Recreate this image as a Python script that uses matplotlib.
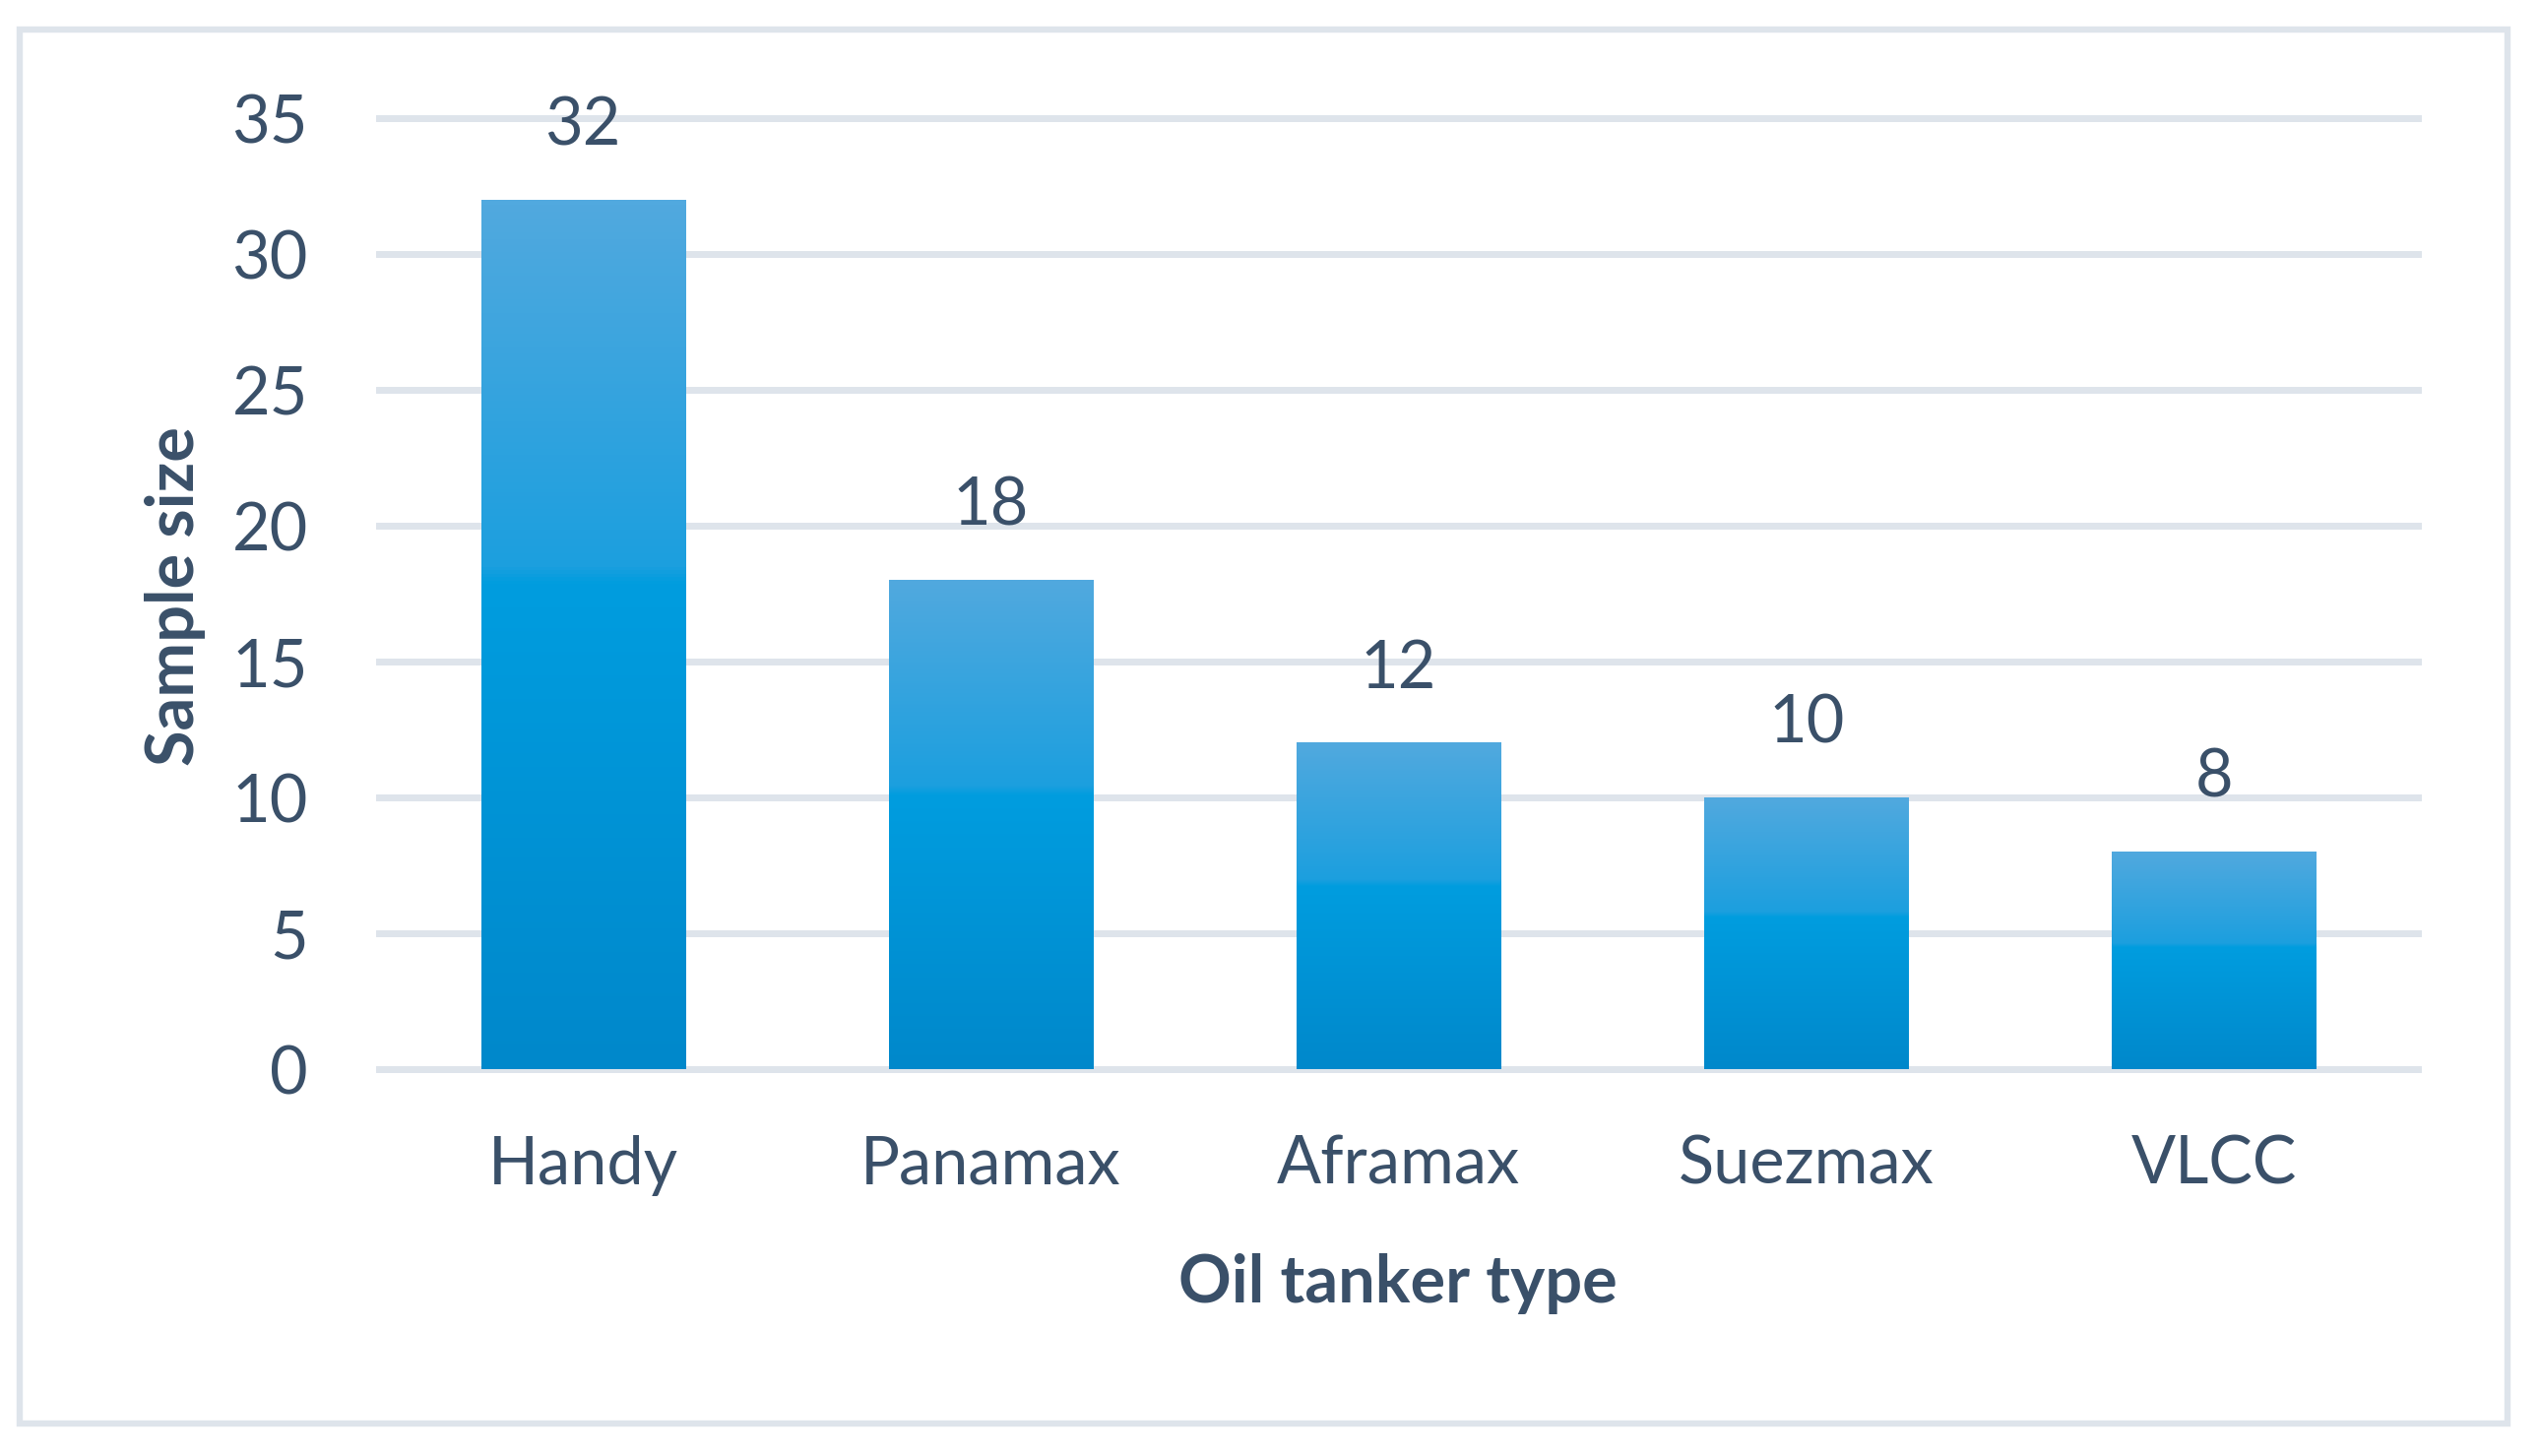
import matplotlib.pyplot as plt
import matplotlib.patches as mpatches
from matplotlib.colors import LinearSegmentedColormap
import numpy as np

# Data
tanker_types = ["Handy", "Panamax", "Aframax", "Suezmax", "VLCC"]
sample_size = [32, 18, 12, 10, 8]
y_ticks = [0, 5, 10, 15, 20, 25, 30, 35]

text_color = "#3A5069"
grid_color = "#DEE4EB"

plt.rcParams["font.family"] = ["Lato", "DejaVu Sans"]

# bar fill: light on top, sharp step near the middle, darker at the bottom
grad = LinearSegmentedColormap.from_list(
    "bar_grad",
    [(0.0, "#0088CB"), (0.56, "#009DDF"), (0.58, "#1C9FDE"), (1.0, "#51A9DF")],
)

fig = plt.figure(figsize=(12.9, 7.395), dpi=200)
ax = fig.add_axes([0.14922, 0.26572, 0.80271, 0.65281])

x = np.arange(len(tanker_types))
bars = ax.bar(x, sample_size, width=0.5, color="none", zorder=2)

g = np.linspace(0, 1, 256).reshape(-1, 1)
for b in bars:
    x0, w, h = b.get_x(), b.get_width(), b.get_height()
    ax.imshow(g, cmap=grad, origin="lower", aspect="auto",
              extent=[x0, x0 + w, 0, h], zorder=2, interpolation="bilinear")

for xi, v in zip(x, sample_size):
    ax.annotate(str(v), (xi, v), xytext=(0, 20), textcoords="offset points",
                ha="center", va="baseline", fontsize=24, color=text_color)

for yv in y_ticks:
    ax.axhline(yv, color=grid_color, lw=2.5, zorder=1, clip_on=False)

ax.set_xlim(-0.5, len(tanker_types) - 0.5)
ax.set_ylim(0, 35)
ax.set_yticks(y_ticks)
ax.set_xticks(x)
ax.set_xticklabels(tanker_types)
ax.tick_params(axis="both", length=0, labelsize=24, labelcolor=text_color)
ax.tick_params(axis="y", pad=26)
ax.tick_params(axis="x", pad=24)
for s in ax.spines.values():
    s.set_visible(False)

fig.text(0.5504, 0.1055, "Oil tanker type", ha="center", va="baseline",
         fontsize=24, fontweight="bold", color=text_color)
fig.text(209 / 2580, 1 - 606 / 1479, "Sample size", rotation=90, ha="right",
         va="center", fontsize=24, fontweight="bold", color=text_color)

# outer chart border
fig.patches.append(mpatches.Rectangle((20 / 2580, 1 - 1446 / 1479),
                                      (2547 - 20) / 2580, (1446 - 30) / 1479,
                                      transform=fig.transFigure, fill=False,
                                      edgecolor=grid_color, lw=2.3))

fig.savefig("out.png", dpi=200)
